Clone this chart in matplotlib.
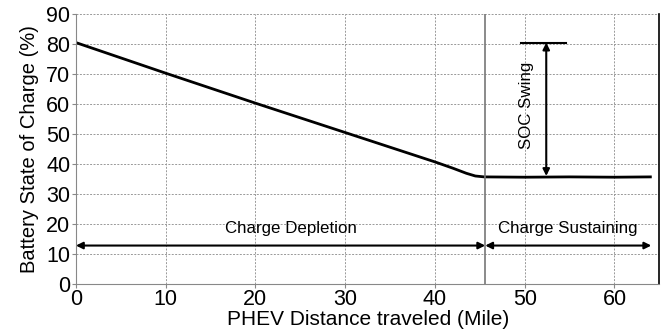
import numpy as np
import matplotlib
matplotlib.use('Agg')
import matplotlib.pyplot as plt

# Values
distance = [0, 5, 10, 15, 20, 25, 30, 35, 40, 42, 43.5, 44.5, 45.5, 50, 55, 60, 64]
soc = [80.5, 75.4, 70.3, 65.3, 60.3, 55.4, 50.5, 45.6, 40.7, 38.6, 36.9, 36.0, 35.7, 35.6, 35.7, 35.6, 35.7]

cd_end = 45.6          # end of charge depletion
arrow_y = 12.8
swing_x = 52.4
swing_top = 80.5
swing_bottom = 36.0

plt.rcParams['font.family'] = ['Liberation Sans', 'DejaVu Sans']

fig = plt.figure(figsize=(6.66, 3.36), dpi=100)
ax = fig.add_axes([0.114, 0.155, 0.876, 0.803])

ax.plot(distance, soc, color='black', linewidth=2.0)

ax.set_xlim(0, 65)
ax.set_ylim(0, 90)
ax.set_xticks(np.arange(0, 61, 10))
ax.set_yticks(np.arange(0, 91, 10))
ax.grid(True, color='#999999', linestyle=(0, (2, 1.5)), linewidth=0.7)
ax.tick_params(labelsize=15.5, length=3, color='#888888', pad=1)

for s in ['left', 'bottom']:
    ax.spines[s].set_color('#888888')
ax.spines['top'].set_visible(False)
ax.spines['right'].set_color('black')
ax.spines['right'].set_linewidth(1.2)

ax.set_xlabel('PHEV Distance traveled (Mile)', fontsize=15, labelpad=0)
ax.set_ylabel('Battery State of Charge (%)', fontsize=14.5, labelpad=5)

# mode boundary
ax.axvline(cd_end, color='#777777', linewidth=1.2)

arrow = dict(arrowstyle='<|-|>', color='black', lw=1.5, mutation_scale=10, shrinkA=0, shrinkB=0)
ax.annotate('', xy=(0, arrow_y), xytext=(cd_end, arrow_y), arrowprops=arrow)
ax.annotate('', xy=(cd_end, arrow_y), xytext=(64.1, arrow_y), arrowprops=arrow)
ax.text(23.9, 18.5, 'Charge Depletion', fontsize=12.2, ha='center', va='center')
ax.text(54.8, 18.5, 'Charge Sustaining', fontsize=12.2, ha='center', va='center')

# SOC swing
ax.plot([49.6, 54.6], [swing_top, swing_top], color='black', linewidth=1.5)
ax.annotate('', xy=(swing_x, swing_top), xytext=(swing_x, swing_bottom), arrowprops=arrow)
ax.text(50.2, 59.5, 'SOC Swing', fontsize=12.2, rotation=90, ha='center', va='center')

fig.savefig('out.png', dpi=100)
